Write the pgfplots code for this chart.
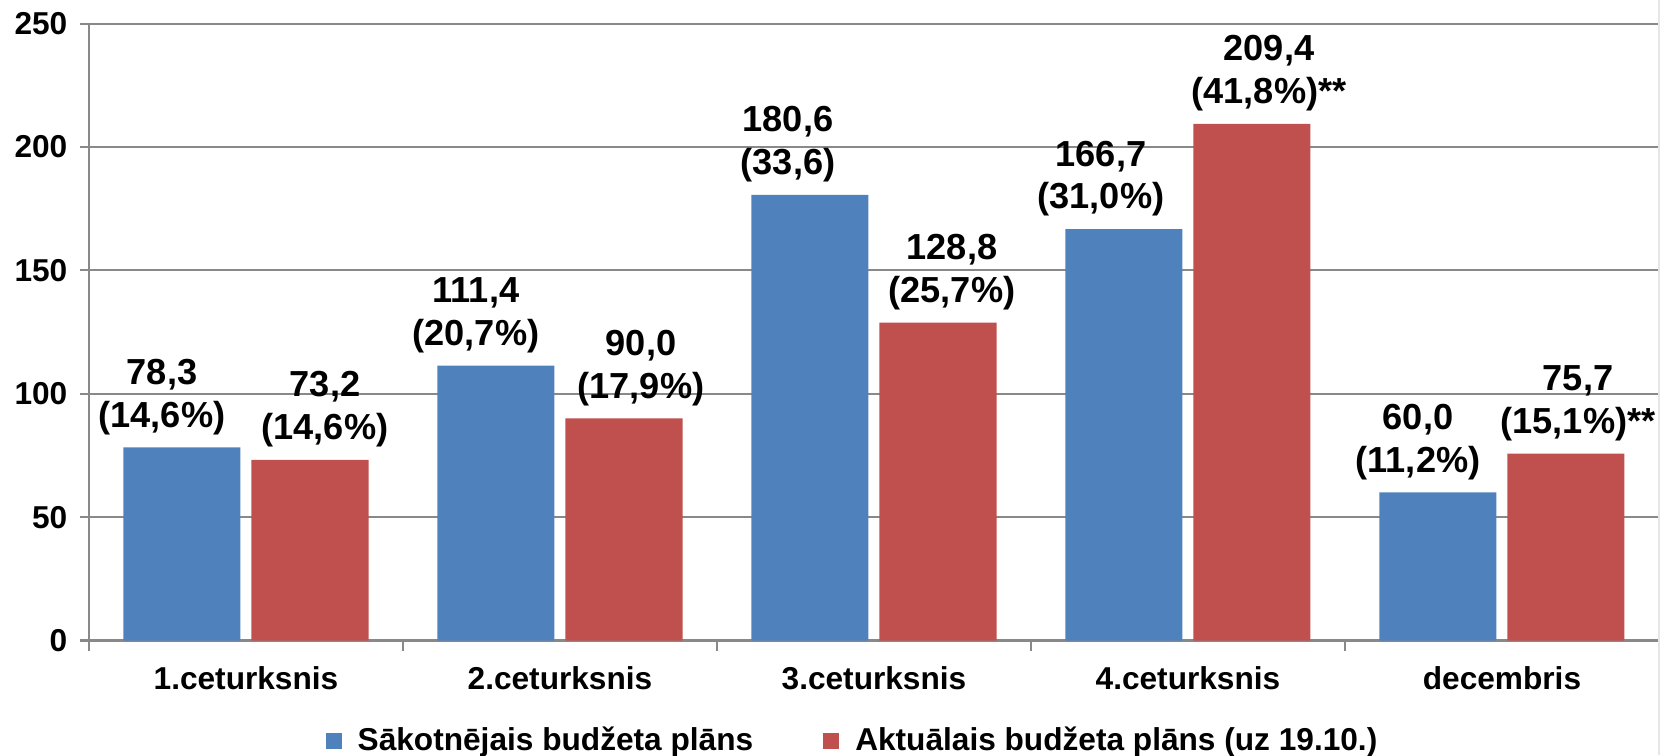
\documentclass[border=0pt]{standalone}
\usepackage{fontspec}
\setmainfont{Liberation Sans}
\usepackage{pgfplots}
\usepackage{pgfplotstable}
\pgfplotsset{compat=1.18}
\definecolor{barblue}{HTML}{4F81BD}
\definecolor{barred}{HTML}{C0504D}
\definecolor{gridgray}{HTML}{898989}
\definecolor{bordergray}{HTML}{E6E6E6}
\pgfplotsset{ybar legend/.style={legend image code/.code={\fill[##1] (0mm,-0.8mm) rectangle (1.6mm,0.8mm);}}}

\pgfplotstableread[col sep=semicolon]{
x;y;dx;lab
0;78.3;-2.0;{78,3\\(14,6\%)}
1;111.4;-2.0;{111,4\\(20,7\%)}
2;180.6;-2.2;{180,6\\(33,6)}
3;166.7;-2.3;{166,7\\(31,0\%)}
4;60.0;-2.0;{60,0\\(11,2\%)}
}\plansak

\pgfplotstableread[col sep=semicolon]{
x;y;dx;lab
0;73.2;1.5;{73,2\\(14,6\%)}
1;90.0;1.7;{90,0\\(17,9\%)}
2;128.8;1.4;{128,8\\(25,7\%)}
3;209.4;1.7;{209,4\\(41,8\%)**}
4;75.7;1.2;{75,7\\(15,1\%)**}
}\planakt

\begin{document}
\begin{tikzpicture}
\path[use as bounding box] (-8.9mm,-11.45mm) rectangle (157.1mm,64.05mm);
\begin{axis}[
  at={(0,0)}, anchor=south west,
  scale only axis,
  width=157mm, height=61.69mm,
  xmin=-0.5, xmax=4.5,
  ymin=0, ymax=250,
  ytick={0,50,...,250},
  xtick={0,1,2,3,4},
  xticklabels={1.ceturksnis,2.ceturksnis,3.ceturksnis,4.ceturksnis,decembris},
  minor xtick={-0.5,0.5,1.5,2.5,3.5,4.5},
  axis x line=bottom, axis y line=left,
  axis line style={-, draw=gridgray, line width=0.6pt},
  ymajorgrids,
  grid style={draw=gridgray, line width=0.6pt},
  tick align=outside,
  tick style={draw=gridgray, line width=0.6pt},
  major x tick style={draw=none},
  minor x tick style={draw=gridgray, line width=0.6pt},
  major tick length=0.9mm,
  minor tick length=1mm,
  /pgf/number format/assume math mode=true,
  yticklabel style={font=\bfseries\fontsize{9}{10.8}\selectfont, anchor=east, inner sep=0pt, xshift=-1.2mm},
  xticklabel style={font=\bfseries\fontsize{9}{10.8}\selectfont, anchor=base, inner sep=0pt, yshift=-3.95mm},
  ybar,
  bar width=11.7mm,
  legend columns=2,
  legend style={at={(axis description cs:0.1503,-0.163)}, anchor=west, draw=none, fill=none,
    inner sep=0pt, font=\bfseries\fontsize{9}{10.8}\selectfont,
    column sep=0.9mm, /tikz/every even column/.append style={column sep=6.3mm}},
  nodes near coords,
  point meta=explicit symbolic,
  every node near coord/.append style={font=\bfseries\fontsize{10.3}{12.2}\selectfont, align=center,
    anchor=south, inner sep=0pt, yshift=1.2mm, text=black},
  visualization depends on={\thisrow{dx} \as \labdx},
  every node near coord/.append style={xshift=\labdx mm},
]
\addplot[fill=barblue, draw=none, bar shift=-6.4mm] table[x=x, y=y, meta=lab] {\plansak};
\addlegendentry{Sākotnējais budžeta plāns}
\addplot[fill=barred, draw=none, bar shift=6.4mm] table[x=x, y=y, meta=lab] {\planakt};
\addlegendentry{Aktuālais budžeta plāns (uz 19.10.)}
\end{axis}
\draw[bordergray, line width=0.6pt] (157.0mm,-11.45mm) -- (157.0mm,64.05mm);
\end{tikzpicture}
\end{document}
